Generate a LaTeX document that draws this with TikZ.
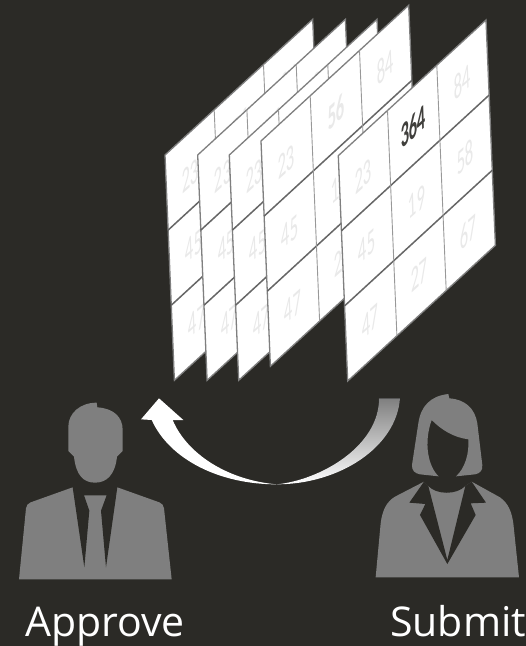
\documentclass[tikz,border=0pt]{standalone}
\usepackage{fontspec}
\setmainfont{Open Sans}
\newfontfamily\cellfont{Carlito}
\usepackage{xcolor}
\definecolor{slate}{HTML}{2B2A26}
\definecolor{figure}{HTML}{7F7F7F}
\definecolor{rowline}{HTML}{666666}
\definecolor{faint}{HTML}{E9E9E9}
\definecolor{shade}{HTML}{CBCBCB}
\tikzset{
  person/.style={fill=figure, draw=none},
  cutout/.style={fill=slate, draw=none},
  caption/.style={text=white, anchor=base west, inner sep=0pt, font=\fontsize{41}{41}\selectfont},
  cell/.style={text=faint, transform shape, cm={.47,.43,-.03,1,(0,0)}, inner sep=0pt, font=\cellfont\fontsize{35}{35}\selectfont},
}
% one sheet: top left corner, then the middle column head and the bold colour
\newcommand{\sheet}[4]{
  \begin{scope}[shift={(#1,#2)}]
    \fill[white, draw=figure, line width=1.3pt] (0,0) -- (147.7,-135.7) -- (157.1,89.6) -- (9.4,225.3) -- cycle;
    \draw[rowline, line width=1.5pt] (3.1,75.1) -- (150.8,-60.6);
    \draw[rowline, line width=1.5pt] (6.3,150.2) -- (154,14.5);
    \draw[figure!80, line width=.9pt] (49.2,-45.2) -- (58.6,180.1);
    \draw[figure!80, line width=.9pt] (98.5,-90.5) -- (107.9,134.8);
    \node[cell] (a1) at (25,21) {23};
    \node[cell] (a2) at (28.7,91) {45};
    \node[cell] (a3) at (31.7,166) {47};
    \node[cell, text=#4, font=\cellfont\bfseries\fontsize{35}{35}\selectfont] (b1) at (75,-29) {#3};
    \node[cell] (b2) at (78.4,46) {19};
    \node[cell] (b3) at (81,119) {27};
    \node[cell] (c1) at (124,-74) {84};
    \node[cell] (c2) at (127,1) {58};
    \node[cell] (c3) at (130,76) {67};
  \end{scope}
}
\begin{document}
\begin{tikzpicture}[x=1pt, y=-1pt]
\fill[slate] (0,0) rectangle (526,646);

% sheets, back to front
\sheet{165}{155}{56}{faint}
\sheet{197.7}{155}{56}{faint}
\sheet{229.3}{155}{56}{faint}
\sheet{261}{141}{56}{faint}
\sheet{338.3}{155.7}{364}{slate!90}

% left person
\begin{scope}[shift={(0,380)}, scale=1/3]
  \fill[person] (290,68) -- (292,82) .. controls (340,85) and (368,110) .. (368,150) -- (368,213) -- (351,230)
    .. controls (345,285) and (320,308) .. (285,308) .. controls (250,308) and (228,285) .. (222,230) -- (205,213) -- (205,140)
    .. controls (205,100) and (240,68) .. (290,68) -- cycle;
  \fill[person] (57,598) -- (78,385) .. controls (79,375) and (84,371) .. (92,367) -- (218,322) -- (352,322) -- (478,367)
    .. controls (486,371) and (491,375) .. (492,385) -- (515,598) -- cycle;
  \fill[cutout] (218,318) -- (352,318) -- (352,322) -- (318,562) -- (303,392) -- (320,346) -- (252,346) -- (268,392) -- (253,562) -- (218,322) -- cycle;
\end{scope}

% right person
\begin{scope}[shift={(0,380)}, scale=1/3]
  \fill[person] (1345,42) .. controls (1290,48) and (1262,80) .. (1255,130) -- (1236,255)
    .. controls (1235,272) and (1245,280) .. (1260,283) -- (1316,289) .. controls (1285,260) and (1270,190) .. (1295,120)
    .. controls (1325,150) and (1360,172) .. (1405,178) .. controls (1408,220) and (1395,265) .. (1368,289) -- (1425,283)
    .. controls (1440,280) and (1448,272) .. (1447,255) -- (1432,130) .. controls (1425,85) and (1395,58) .. (1348,55) -- cycle;
  \fill[person] (1127,592) -- (1142,430) .. controls (1147,390) and (1160,365) .. (1185,350) -- (1272,305) -- (1415,305) -- (1500,352)
    .. controls (1525,370) and (1535,395) .. (1540,430) -- (1557,592) -- cycle;
  \fill[cutout] (1272,305) -- (1228,368) -- (1276,372) -- (1260,405) -- (1342,552) -- (1427,405) -- (1412,370) -- (1458,368) -- (1415,305)
    -- (1396,318) -- (1342,540) -- (1285,318) -- cycle;
  \fill[cutout] (1285,318) .. controls (1310,345) and (1370,345) .. (1396,318) -- (1415,305) -- (1415,301) -- (1272,301) -- (1272,305) -- cycle;
\end{scope}

% arrow
\begin{scope}[shift={(0,380)}, scale=1/3]
  \fill[shade] (1137,55) -- (1200,55) .. controls (1190,200) and (1020,313) .. (830,313)
    .. controls (960,300) and (1137,200) .. (1137,55) -- cycle;
  \fill[white] (830,313) .. controls (660,313) and (510,240) .. (455,120) -- (423,118) -- (477,55) -- (550,120) -- (518,120)
    .. controls (560,220) and (680,300) .. (830,313) -- cycle;
\end{scope}

\node[caption] (approve) at (25,636) {Approve};
\node[caption] (submit) at (390,636) {Submit};
\end{tikzpicture}
\end{document}
